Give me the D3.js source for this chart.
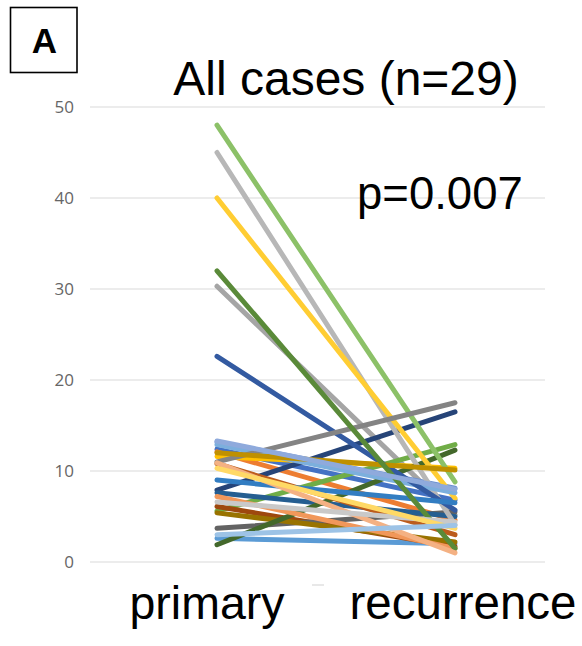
<!DOCTYPE html>
<html>
<head>
<meta charset="utf-8">
<script src="https://cdn.jsdelivr.net/npm/d3@7"></script>
<style>
  body { margin: 0; background: #fff; }
  svg text { font-family: "Liberation Sans", Arial, sans-serif; }
</style>
</head>
<body>
<div id="chart"></div>
<script>
// values, one entry per case (29)
const categories = ["primary", "recurrence"];
const primary = [12.4, 12.1, 30.3, 11.6, 2.6, 5.6, 7.9, 6.1, 3.7, 5.4, 7.6, 1.9, 13.2, 7.2, 45,
                 40, 12.9, 48, 22.6, 10.8, 11.0, 12.0, 9.0, 32, 13.3, 10.9, 6.6, 10.3, 3.0];
const recurrence = [6.8, 4.6, 5.2, 10.3, 2.0, 12.9, 16.5, 1.7, 5.5, 2.2, 5.0, 12.3, 8.1, 1.5, 4.1,
                    7.0, 7.6, 8.8, 5.7, 3.0, 17.5, 10.1, 6.5, 1.5, 8.0, 1.0, 4.4, 3.7, 4.0];
const colors = ["#4472C4", "#ED7D31", "#A5A5A5", "#FFC000", "#5B9BD5", "#70AD47", "#264478", "#9E480E",
                "#636363", "#997300", "#255E91", "#43682B", "#698ED0", "#F1975A", "#B7B7B7", "#FFCD33",
                "#7CAFDD", "#8CC168", "#335AA1", "#BC5C1C", "#848484", "#BF9000", "#327DC2", "#5A8A39",
                "#8FAADC", "#F4B183", "#C9C9C9", "#FFD966", "#9DC3E6"];
const yTicks = [0, 10, 20, 30, 40, 50];

const width = 582, height = 646;
const svg = d3.select("#chart").append("svg")
  .attr("width", width).attr("height", height);

const y = d3.scaleLinear().domain([0, 50]).range([562, 107]);
const x = d3.scalePoint().domain(categories).range([217, 455]);

// gridlines
svg.append("g")
  .selectAll("line")
  .data(yTicks)
  .enter().append("line")
  .attr("x1", 90).attr("x2", 545)
  .attr("y1", d => y(d)).attr("y2", d => y(d))
  .attr("stroke", "#d9d9d9").attr("stroke-width", 1.2);

// axis labels
const yAxis = d3.axisLeft(y).tickValues(yTicks).tickSize(0).tickPadding(0);
const ga = svg.append("g").attr("transform", "translate(74,0)").call(yAxis);
ga.select(".domain").remove();
ga.selectAll("text")
  .attr("fill", "#666")
  .style("font-family", "'Open Sans', sans-serif")
  .style("font-size", "17px");

// one slope line per case
const cases = primary.map((p, i) => ({ p: p, r: recurrence[i], c: colors[i] }));
svg.append("g")
  .selectAll("line")
  .data(cases)
  .enter().append("line")
  .attr("x1", x("primary")).attr("y1", d => y(d.p))
  .attr("x2", x("recurrence")).attr("y2", d => y(d.r))
  .attr("stroke", d => d.c)
  .attr("stroke-width", 5)
  .attr("stroke-linecap", "round");

// faint mark below the axis
svg.append("line")
  .attr("x1", 312).attr("x2", 324).attr("y1", 585).attr("y2", 585)
  .attr("stroke", "#e0e0e0").attr("stroke-width", 1.5);

// panel letter
svg.append("rect")
  .attr("x", 10.5).attr("y", 7.5).attr("width", 66.5).attr("height", 65)
  .attr("fill", "none").attr("stroke", "#000").attr("stroke-width", 1.6);
svg.append("text")
  .attr("x", 44.5).attr("y", 53)
  .attr("text-anchor", "middle")
  .style("font-size", "35px").style("font-weight", "bold")
  .text("A");

svg.append("text")
  .attr("x", 346).attr("y", 95)
  .attr("text-anchor", "middle")
  .style("font-size", "48px")
  .text("All cases (n=29)");

svg.append("text")
  .attr("x", 357).attr("y", 209)
  .style("font-size", "45.5px")
  .text("p=0.007");

svg.append("text")
  .attr("x", 207).attr("y", 619)
  .attr("text-anchor", "middle")
  .style("font-size", "46.5px")
  .text("primary");

svg.append("text")
  .attr("x", 463).attr("y", 619)
  .attr("text-anchor", "middle")
  .style("font-size", "47.5px")
  .text("recurrence");
</script>
</body>
</html>
